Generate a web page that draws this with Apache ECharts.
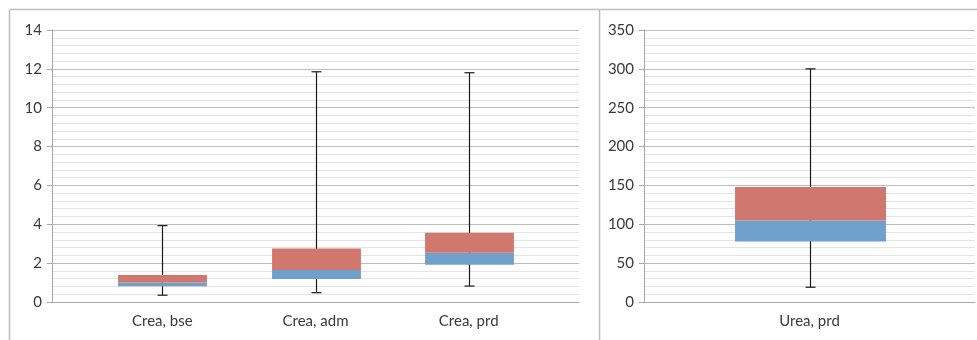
<!DOCTYPE html>
<html>
<head>
<meta charset="utf-8">
<script src="https://cdn.jsdelivr.net/npm/echarts@6/dist/echarts.min.js"></script>
<style>
html,body{margin:0;padding:0;background:#fff;}
#chart{width:977px;height:340px;}
</style>
</head>
<body>
<div id="chart"></div>
<script>
// ---- data ----
const categoriesLeft = ['Crea, bse', 'Crea, adm', 'Crea, prd'];
const minLeft = [0.35, 0.48, 0.82];
const q1Left  = [0.81, 1.18, 1.92];
const medLeft = [1.01, 1.65, 2.54];
const q3Left  = [1.39, 2.76, 3.57];
const maxLeft = [3.93, 11.85, 11.80];

const categoriesRight = ['Urea, prd'];
const minRight = [19];
const q1Right  = [78];
const medRight = [105];
const q3Right  = [148];
const maxRight = [300];

const yTicksLeft = [0, 2, 4, 6, 8, 10, 12, 14];
const yTicksRight = [0, 50, 100, 150, 200, 250, 300, 350];

// ---- styling ----
const FONT = 'Lato';
const FS = 15;
const RED = '#D0786D';
const BLUE = '#6FA0CC';
const WHISKER = '#1a1a1a';
const LABEL = '#3a3a3a';

function rows(cats, mn, q1, md, q3, mx) {
  return cats.map((c, i) => [i, mn[i], q1[i], md[i], q3[i], mx[i]]);
}

function boxRenderer(frac) {
  return function (params, api) {
    const i = api.value(0);
    const pMin = api.coord([i, api.value(1)]);
    const pQ1 = api.coord([i, api.value(2)]);
    const pMed = api.coord([i, api.value(3)]);
    const pQ3 = api.coord([i, api.value(4)]);
    const pMax = api.coord([i, api.value(5)]);
    const cw = api.size([1, 0])[0];
    const bw = cw * frac;
    const x = Math.round(pMed[0]) + 0.5;
    const cap = 5;
    const ls = { stroke: WHISKER, lineWidth: 1.2 };
    return {
      type: 'group',
      children: [
        { type: 'line', shape: { x1: x, y1: pMin[1], x2: x, y2: pMax[1] }, style: ls },
        { type: 'line', shape: { x1: x - cap, y1: pMax[1], x2: x + cap, y2: pMax[1] }, style: ls },
        { type: 'line', shape: { x1: x - cap, y1: pMin[1], x2: x + cap, y2: pMin[1] }, style: ls },
        { type: 'rect', shape: { x: x - bw / 2, y: pMed[1], width: bw, height: pQ1[1] - pMed[1] }, style: { fill: BLUE } },
        { type: 'rect', shape: { x: x - bw / 2, y: pQ3[1], width: bw, height: pMed[1] - pQ3[1] }, style: { fill: RED } }
      ]
    };
  };
}

function yAxis(gridIndex, ticks) {
  const step = ticks[1] - ticks[0];
  return {
    type: 'value', gridIndex: gridIndex,
    min: ticks[0], max: ticks[ticks.length - 1], interval: step,
    axisLine: { show: true, onZero: false, lineStyle: { color: '#A8A8A8', width: 1 } },
    axisTick: { show: true, length: 5, lineStyle: { color: '#A8A8A8' } },
    axisLabel: { color: LABEL, fontFamily: FONT, fontSize: FS, margin: 10 },
    splitLine: { show: true, lineStyle: { color: '#BDBDBD', width: 1 } },
    minorTick: { show: false, splitNumber: 5 },
    minorSplitLine: { show: true, lineStyle: { color: '#E4E4E4', width: 1 } }
  };
}

const catPositions = categoriesLeft.map((c, i) => i);

const chart = echarts.init(document.getElementById('chart'), null, { renderer: 'canvas' });
chart.setOption({
  animation: false,
  backgroundColor: '#ffffff',
  grid: [
    { left: 52, right: 977 - 579, top: 30, bottom: 38 },
    { left: 644, right: 2, top: 30, bottom: 38 }
  ],
  xAxis: [
    {
      type: 'value', gridIndex: 0, min: -0.72, max: 2.72,
      axisLine: { show: true, onZero: false, lineStyle: { color: '#A8A8A8', width: 1 } },
      axisTick: { show: false },
      splitLine: { show: false },
      axisLabel: {
        color: LABEL, fontFamily: FONT, fontSize: FS, margin: 12,
        customValues: catPositions,
        formatter: function (v) { return categoriesLeft[Math.round(v)]; }
      }
    },
    {
      type: 'category', gridIndex: 1, data: categoriesRight, boundaryGap: true,
      axisLine: { show: true, onZero: false, lineStyle: { color: '#A8A8A8', width: 1 } },
      axisTick: { show: false },
      splitLine: { show: false },
      axisLabel: { color: LABEL, fontFamily: FONT, fontSize: FS, margin: 12 }
    }
  ],
  yAxis: [yAxis(0, yTicksLeft), yAxis(1, yTicksRight)],
  graphic: [
    { type: 'line', shape: { x1: 9.5, y1: 9.5, x2: 977, y2: 9.5 }, style: { stroke: '#BEBEBE', lineWidth: 1.5 } },
    { type: 'line', shape: { x1: 9.5, y1: 9.5, x2: 9.5, y2: 340 }, style: { stroke: '#BEBEBE', lineWidth: 1.5 } },
    { type: 'line', shape: { x1: 599.5, y1: 9.5, x2: 599.5, y2: 340 }, style: { stroke: '#BEBEBE', lineWidth: 1.5 } }
  ],
  series: [
    {
      type: 'custom', xAxisIndex: 0, yAxisIndex: 0,
      data: rows(categoriesLeft, minLeft, q1Left, medLeft, q3Left, maxLeft),
      encode: { x: 0, y: [1, 2, 3, 4, 5] },
      renderItem: boxRenderer(0.58), z: 5
    },
    {
      type: 'custom', xAxisIndex: 1, yAxisIndex: 1,
      data: rows(categoriesRight, minRight, q1Right, medRight, q3Right, maxRight),
      encode: { x: 0, y: [1, 2, 3, 4, 5] },
      renderItem: boxRenderer(0.456), z: 5
    }
  ]
});
</script>
</body>
</html>
